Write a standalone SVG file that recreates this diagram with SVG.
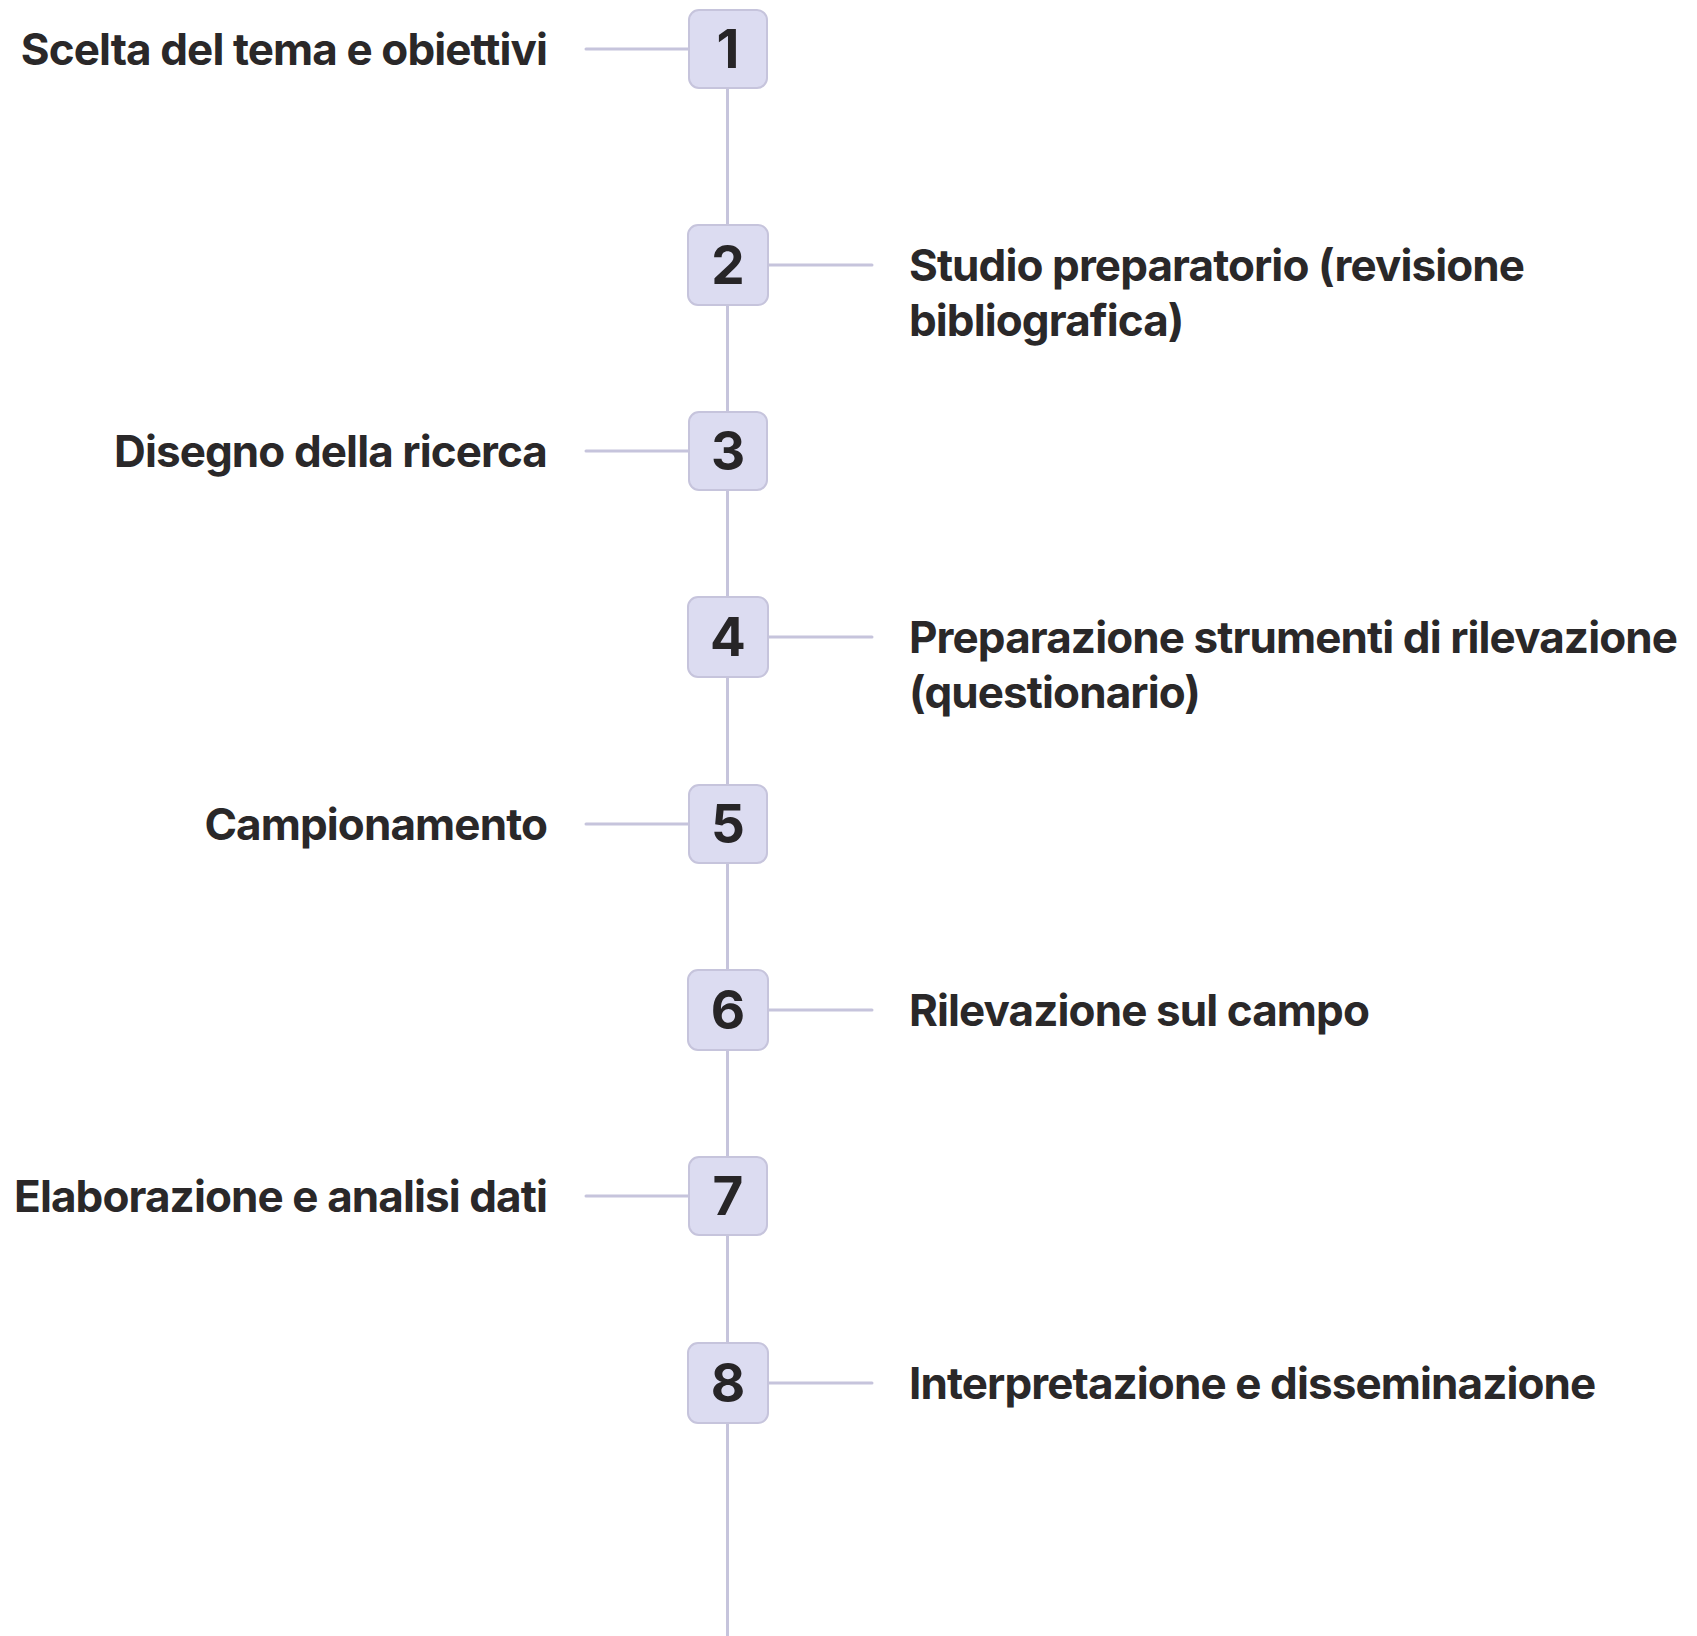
<svg xmlns="http://www.w3.org/2000/svg" width="1697" height="1636" viewBox="0 0 1697 1636">
<style>
.bg{fill:#ffffff}
.ln{stroke:#c6c4dc;stroke-width:3;stroke-linecap:round;fill:none}
.box{fill:#dcdcf1;stroke:#c6c4dc;stroke-width:2}
.num{font-family:Inter,"Liberation Sans",sans-serif;font-weight:700;font-size:53px;fill:#272527;text-anchor:middle}
.lbl{font-family:Inter,"Liberation Sans",sans-serif;font-weight:700;font-size:44px;letter-spacing:-0.9px;fill:#2a2829}
.l{text-anchor:end}
</style>
<rect class="bg" x="0" y="0" width="1697" height="1636"/>
<g id="connectors">
<line class="ln" x1="727.5" y1="49" x2="727.5" y2="1640"/>
<line class="ln" x1="586" y1="49" x2="689" y2="49"/>
<line class="ln" x1="768" y1="265" x2="872" y2="265"/>
<line class="ln" x1="586" y1="451" x2="689" y2="451"/>
<line class="ln" x1="768" y1="637" x2="872" y2="637"/>
<line class="ln" x1="586" y1="824" x2="689" y2="824"/>
<line class="ln" x1="768" y1="1010" x2="872" y2="1010"/>
<line class="ln" x1="586" y1="1196" x2="689" y2="1196"/>
<line class="ln" x1="768" y1="1383" x2="872" y2="1383"/>
</g>
<g id="node1">
<rect class="box" x="689" y="10" width="78" height="78" rx="10"/>
<text class="num" x="728" y="68">1</text>
<text class="lbl l" x="547" y="65">Scelta del tema e obiettivi</text>
</g>
<g id="node2">
<rect class="box" x="688" y="225" width="80" height="80" rx="10"/>
<text class="num" x="728" y="284">2</text>
<text class="lbl" x="909" y="281">Studio preparatorio (revisione</text>
<text class="lbl" x="909" y="336">bibliografica)</text>
</g>
<g id="node3">
<rect class="box" x="689" y="412" width="78" height="78" rx="10"/>
<text class="num" x="728" y="470">3</text>
<text class="lbl l" x="547" y="467">Disegno della ricerca</text>
</g>
<g id="node4">
<rect class="box" x="688" y="597" width="80" height="80" rx="10"/>
<text class="num" x="728" y="656">4</text>
<text class="lbl" x="909" y="653">Preparazione strumenti di rilevazione</text>
<text class="lbl" x="909" y="708">(questionario)</text>
</g>
<g id="node5">
<rect class="box" x="689" y="785" width="78" height="78" rx="10"/>
<text class="num" x="728" y="843">5</text>
<text class="lbl l" x="547" y="840">Campionamento</text>
</g>
<g id="node6">
<rect class="box" x="688" y="970" width="80" height="80" rx="10"/>
<text class="num" x="728" y="1029">6</text>
<text class="lbl" x="909" y="1026">Rilevazione sul campo</text>
</g>
<g id="node7">
<rect class="box" x="689" y="1157" width="78" height="78" rx="10"/>
<text class="num" x="728" y="1215">7</text>
<text class="lbl l" x="547" y="1212">Elaborazione e analisi dati</text>
</g>
<g id="node8">
<rect class="box" x="688" y="1343" width="80" height="80" rx="10"/>
<text class="num" x="728" y="1402">8</text>
<text class="lbl" x="909" y="1399">Interpretazione e disseminazione</text>
</g>
</svg>
